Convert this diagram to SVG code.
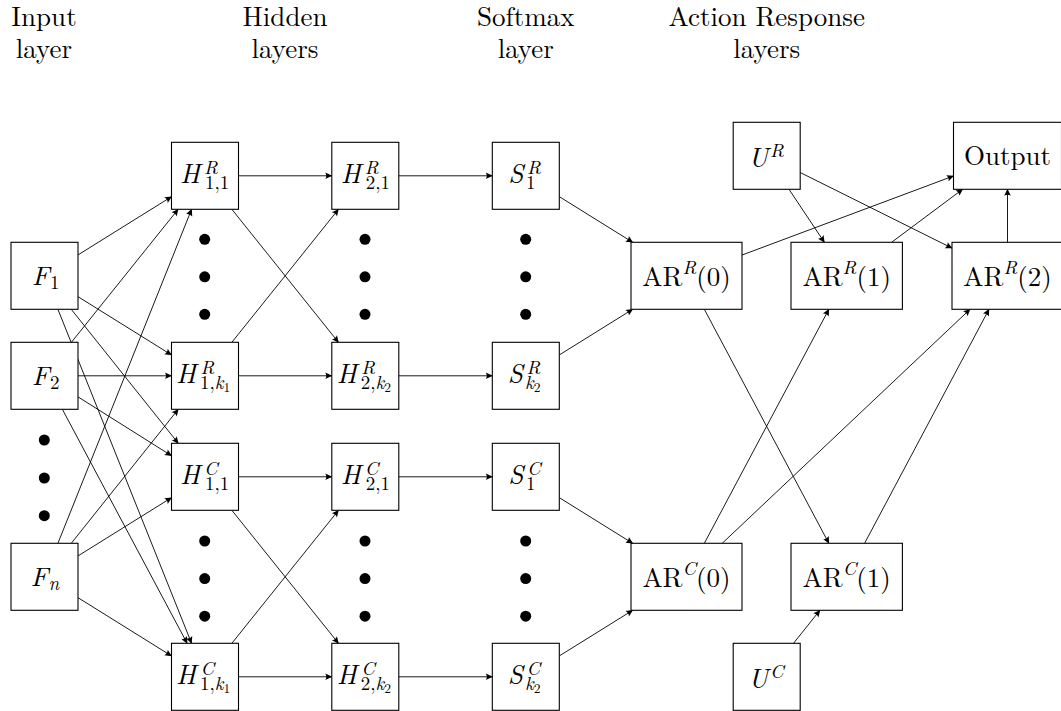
<svg xmlns="http://www.w3.org/2000/svg" width="1061" height="711" viewBox="0 0 1061 711" font-family="Latin Modern Roman">
<style>
.t { font-size: 27px; }
.h { font-size: 27px; text-anchor: middle; }
.i { font-style: italic; }
.sc { font-size: 19px; }
.ss { font-size: 13.5px; }
.box { fill: #fff; stroke: #000; stroke-width: 1.1; }
.e { stroke: #000; stroke-width: 0.9; fill: none; marker-end: url(#arr); }
.dot { fill: #000; }
</style>
<defs>
<marker id="arr" viewBox="-8 -4 9 8" refX="0" refY="0" markerWidth="9" markerHeight="8" markerUnits="userSpaceOnUse" orient="auto" overflow="visible">
<path d="M0.5,0 L-6.5,-3.3 Q-4.5,0 -6.5,3.3 Z" fill="#000"/>
</marker>
</defs>
<rect width="1061" height="711" fill="#fff"/>

<g id="headers">
<text class="h" x="44" y="26">Input</text>
<text class="h" x="44" y="58">layer</text>
<text class="h" x="285" y="26">Hidden</text>
<text class="h" x="285" y="58">layers</text>
<text class="h" x="525.8" y="26">Softmax</text>
<text class="h" x="525.8" y="58">layer</text>
<text class="h" x="766.7" y="26">Action Response</text>
<text class="h" x="766.7" y="58">layers</text>
</g>

<g id="connectors">
<line class="e" x1="78" y1="254.93" x2="171.5" y2="196.67"/>
<line class="e" x1="78" y1="296.67" x2="171.5" y2="354.93"/>
<line class="e" x1="71.25" y1="309.3" x2="178.25" y2="443.3"/>
<line class="e" x1="57.91" y1="309.3" x2="191.59" y2="643.3"/>
<line class="e" x1="71.38" y1="342.3" x2="178.12" y2="209.3"/>
<line class="e" x1="78" y1="375.8" x2="171.5" y2="375.8"/>
<line class="e" x1="78" y1="396.88" x2="171.5" y2="455.72"/>
<line class="e" x1="62.36" y1="409.3" x2="187.14" y2="643.3"/>
<line class="e" x1="57.91" y1="543.3" x2="191.59" y2="209.3"/>
<line class="e" x1="71.25" y1="543.3" x2="178.25" y2="409.3"/>
<line class="e" x1="78" y1="555.93" x2="171.5" y2="497.67"/>
<line class="e" x1="78" y1="597.67" x2="171.5" y2="655.93"/>

<line class="e" x1="238.5" y1="175.8" x2="331.8" y2="175.8"/>
<line class="e" x1="231.85" y1="209.3" x2="338.45" y2="342.3"/>
<line class="e" x1="231.85" y1="342.3" x2="338.45" y2="209.3"/>
<line class="e" x1="238.5" y1="375.8" x2="331.8" y2="375.8"/>
<line class="e" x1="238.5" y1="476.8" x2="331.8" y2="476.8"/>
<line class="e" x1="231.85" y1="510.3" x2="338.45" y2="643.3"/>
<line class="e" x1="231.85" y1="643.3" x2="338.45" y2="510.3"/>
<line class="e" x1="238.5" y1="676.8" x2="331.8" y2="676.8"/>

<line class="e" x1="398.8" y1="175.8" x2="492.3" y2="175.8"/>
<line class="e" x1="398.8" y1="375.8" x2="492.3" y2="375.8"/>
<line class="e" x1="398.8" y1="476.8" x2="492.3" y2="476.8"/>
<line class="e" x1="398.8" y1="676.8" x2="492.3" y2="676.8"/>

<line class="e" x1="559.3" y1="196.65" x2="632.67" y2="242.3"/>
<line class="e" x1="559.3" y1="354.95" x2="632.67" y2="309.3"/>
<line class="e" x1="559.3" y1="497.65" x2="632.67" y2="543.3"/>
<line class="e" x1="559.3" y1="655.95" x2="632.67" y2="610.3"/>

<line class="e" x1="742" y1="255.05" x2="953.5" y2="175.98"/>
<line class="e" x1="704.33" y1="309.3" x2="828.87" y2="543.3"/>
<line class="e" x1="704.33" y1="543.3" x2="828.87" y2="309.3"/>
<line class="e" x1="722.23" y1="543.3" x2="970" y2="309.3"/>
<line class="e" x1="891.6" y1="242.3" x2="962.6" y2="189.3"/>
<line class="e" x1="864.6" y1="543.3" x2="989" y2="309.3"/>
<line class="e" x1="789" y1="189.3" x2="824.4" y2="242.3"/>
<line class="e" x1="800.2" y1="172.5" x2="952" y2="248.1"/>
<line class="e" x1="1007.5" y1="242.3" x2="1007.5" y2="189.3"/>
<line class="e" x1="793.5" y1="643.3" x2="819.9" y2="610.3"/>
</g>

<g id="dots">
<circle class="dot" cx="44.3" cy="440" r="5.5"/>
<circle class="dot" cx="44.3" cy="478" r="5.5"/>
<circle class="dot" cx="44.3" cy="515.7" r="5.5"/>
<circle class="dot" cx="204.7" cy="239.3" r="5.5"/>
<circle class="dot" cx="204.7" cy="276.8" r="5.5"/>
<circle class="dot" cx="204.7" cy="314.3" r="5.5"/>
<circle class="dot" cx="204.7" cy="541" r="5.5"/>
<circle class="dot" cx="204.7" cy="578.6" r="5.5"/>
<circle class="dot" cx="204.7" cy="616.2" r="5.5"/>
<circle class="dot" cx="365" cy="239.3" r="5.5"/>
<circle class="dot" cx="365" cy="276.8" r="5.5"/>
<circle class="dot" cx="365" cy="314.3" r="5.5"/>
<circle class="dot" cx="365" cy="541" r="5.5"/>
<circle class="dot" cx="365" cy="578.6" r="5.5"/>
<circle class="dot" cx="365" cy="616.2" r="5.5"/>
<circle class="dot" cx="525.7" cy="239.3" r="5.5"/>
<circle class="dot" cx="525.7" cy="276.8" r="5.5"/>
<circle class="dot" cx="525.7" cy="314.3" r="5.5"/>
<circle class="dot" cx="525.7" cy="541" r="5.5"/>
<circle class="dot" cx="525.7" cy="578.6" r="5.5"/>
<circle class="dot" cx="525.7" cy="616.2" r="5.5"/>
</g>

<g id="F1"><rect class="box" x="11" y="242.3" width="67" height="67"/>
<text class="t"><tspan class="i" x="31.7" y="285">F</tspan><tspan class="sc" x="50" y="289">1</tspan></text></g>
<g id="F2"><rect class="box" x="11" y="342.3" width="67" height="67"/>
<text class="t"><tspan class="i" x="31.7" y="385">F</tspan><tspan class="sc" x="50" y="389">2</tspan></text></g>
<g id="Fn"><rect class="box" x="11" y="543.3" width="67" height="67"/>
<text class="t"><tspan class="i" x="30.5" y="586">F</tspan><tspan class="sc i" x="48.5" y="590">n</tspan></text></g>

<g id="HR11"><rect class="box" x="171.5" y="142.3" width="67" height="67"/>
<text class="t"><tspan class="i" x="180" y="183.3">H</tspan><tspan class="sc i" x="204" y="173.8">R</tspan><tspan class="sc" x="205" y="189.3">1,1</tspan></text></g>
<g id="HR1k"><rect class="box" x="171.5" y="342.3" width="67" height="67"/>
<text class="t"><tspan class="i" x="176" y="383.3">H</tspan><tspan class="sc i" x="200.5" y="373.8">R</tspan><tspan class="sc" x="200" y="389.3">1,<tspan class="i">k</tspan><tspan class="ss" dy="3">1</tspan></tspan></text></g>
<g id="HC11"><rect class="box" x="171.5" y="443.3" width="67" height="67"/>
<text class="t"><tspan class="i" x="180" y="484.3">H</tspan><tspan class="sc i" x="204" y="474.8">C</tspan><tspan class="sc" x="205" y="490.3">1,1</tspan></text></g>
<g id="HC1k"><rect class="box" x="171.5" y="643.3" width="67" height="67"/>
<text class="t"><tspan class="i" x="176" y="684.3">H</tspan><tspan class="sc i" x="200.5" y="674.8">C</tspan><tspan class="sc" x="200" y="690.3">1,<tspan class="i">k</tspan><tspan class="ss" dy="3">1</tspan></tspan></text></g>

<g id="HR21"><rect class="box" x="331.8" y="142.3" width="67" height="67"/>
<text class="t"><tspan class="i" x="340.8" y="183.3">H</tspan><tspan class="sc i" x="364.8" y="173.8">R</tspan><tspan class="sc" x="365.8" y="189.3">2,1</tspan></text></g>
<g id="HR2k"><rect class="box" x="331.8" y="342.3" width="67" height="67"/>
<text class="t"><tspan class="i" x="336.8" y="383.3">H</tspan><tspan class="sc i" x="361.3" y="373.8">R</tspan><tspan class="sc" x="360.8" y="389.3">2,<tspan class="i">k</tspan><tspan class="ss" dy="3">2</tspan></tspan></text></g>
<g id="HC21"><rect class="box" x="331.8" y="443.3" width="67" height="67"/>
<text class="t"><tspan class="i" x="340.8" y="484.3">H</tspan><tspan class="sc i" x="364.8" y="474.8">C</tspan><tspan class="sc" x="365.8" y="490.3">2,1</tspan></text></g>
<g id="HC2k"><rect class="box" x="331.8" y="643.3" width="67" height="67"/>
<text class="t"><tspan class="i" x="336.8" y="684.3">H</tspan><tspan class="sc i" x="361.3" y="674.8">C</tspan><tspan class="sc" x="360.8" y="690.3">2,<tspan class="i">k</tspan><tspan class="ss" dy="3">2</tspan></tspan></text></g>

<g id="SR1"><rect class="box" x="492.3" y="142.3" width="67" height="67"/>
<text class="t"><tspan class="i" x="508.3" y="183.3">S</tspan><tspan class="sc i" x="527" y="173.8">R</tspan><tspan class="sc" x="526" y="189.3">1</tspan></text></g>
<g id="SRk"><rect class="box" x="492.3" y="342.3" width="67" height="67"/>
<text class="t"><tspan class="i" x="507.8" y="383.3">S</tspan><tspan class="sc i" x="526.5" y="373.8">R</tspan><tspan class="sc i" x="525" y="389.3">k<tspan class="ss" font-style="normal" dy="3">2</tspan></tspan></text></g>
<g id="SC1"><rect class="box" x="492.3" y="443.3" width="67" height="67"/>
<text class="t"><tspan class="i" x="508.3" y="484.3">S</tspan><tspan class="sc i" x="527" y="474.8">C</tspan><tspan class="sc" x="526" y="490.3">1</tspan></text></g>
<g id="SCk"><rect class="box" x="492.3" y="643.3" width="67" height="67"/>
<text class="t"><tspan class="i" x="507.8" y="684.3">S</tspan><tspan class="sc i" x="526.5" y="674.8">C</tspan><tspan class="sc i" x="525" y="690.3">k<tspan class="ss" font-style="normal" dy="3">2</tspan></tspan></text></g>

<g id="UR"><rect class="box" x="733.2" y="122.3" width="67" height="67"/>
<text class="t"><tspan class="i" x="748.3" y="166.5">U</tspan><tspan class="sc i" x="770" y="156.5">R</tspan></text></g>
<g id="UC"><rect class="box" x="733.2" y="643.3" width="67" height="67"/>
<text class="t"><tspan class="i" x="748.3" y="687.5">U</tspan><tspan class="sc i" x="770" y="677.5">C</tspan></text></g>
<g id="Output"><rect class="box" x="953.5" y="122.3" width="108" height="67"/>
<text class="h" x="1007.5" y="165">Output</text></g>

<g id="ARR0"><rect class="box" x="631" y="242.3" width="111" height="67"/>
<text class="h" x="686.5" y="285.7">AR<tspan class="sc i" dy="-11.5">R</tspan><tspan dy="11.5">(0)</tspan></text></g>
<g id="ARR1"><rect class="box" x="791" y="242.3" width="111.4" height="67"/>
<text class="h" x="846.7" y="285.7">AR<tspan class="sc i" dy="-11.5">R</tspan><tspan dy="11.5">(1)</tspan></text></g>
<g id="ARR2"><rect class="box" x="952" y="242.3" width="111" height="67"/>
<text class="h" x="1007.5" y="285.7">AR<tspan class="sc i" dy="-11.5">R</tspan><tspan dy="11.5">(2)</tspan></text></g>
<g id="ARC0"><rect class="box" x="631" y="543.3" width="111" height="67"/>
<text class="h" x="686.5" y="586.7">AR<tspan class="sc i" dy="-11.5">C</tspan><tspan dy="11.5">(0)</tspan></text></g>
<g id="ARC1"><rect class="box" x="791" y="543.3" width="111.4" height="67"/>
<text class="h" x="846.7" y="586.7">AR<tspan class="sc i" dy="-11.5">C</tspan><tspan dy="11.5">(1)</tspan></text></g>
</svg>
